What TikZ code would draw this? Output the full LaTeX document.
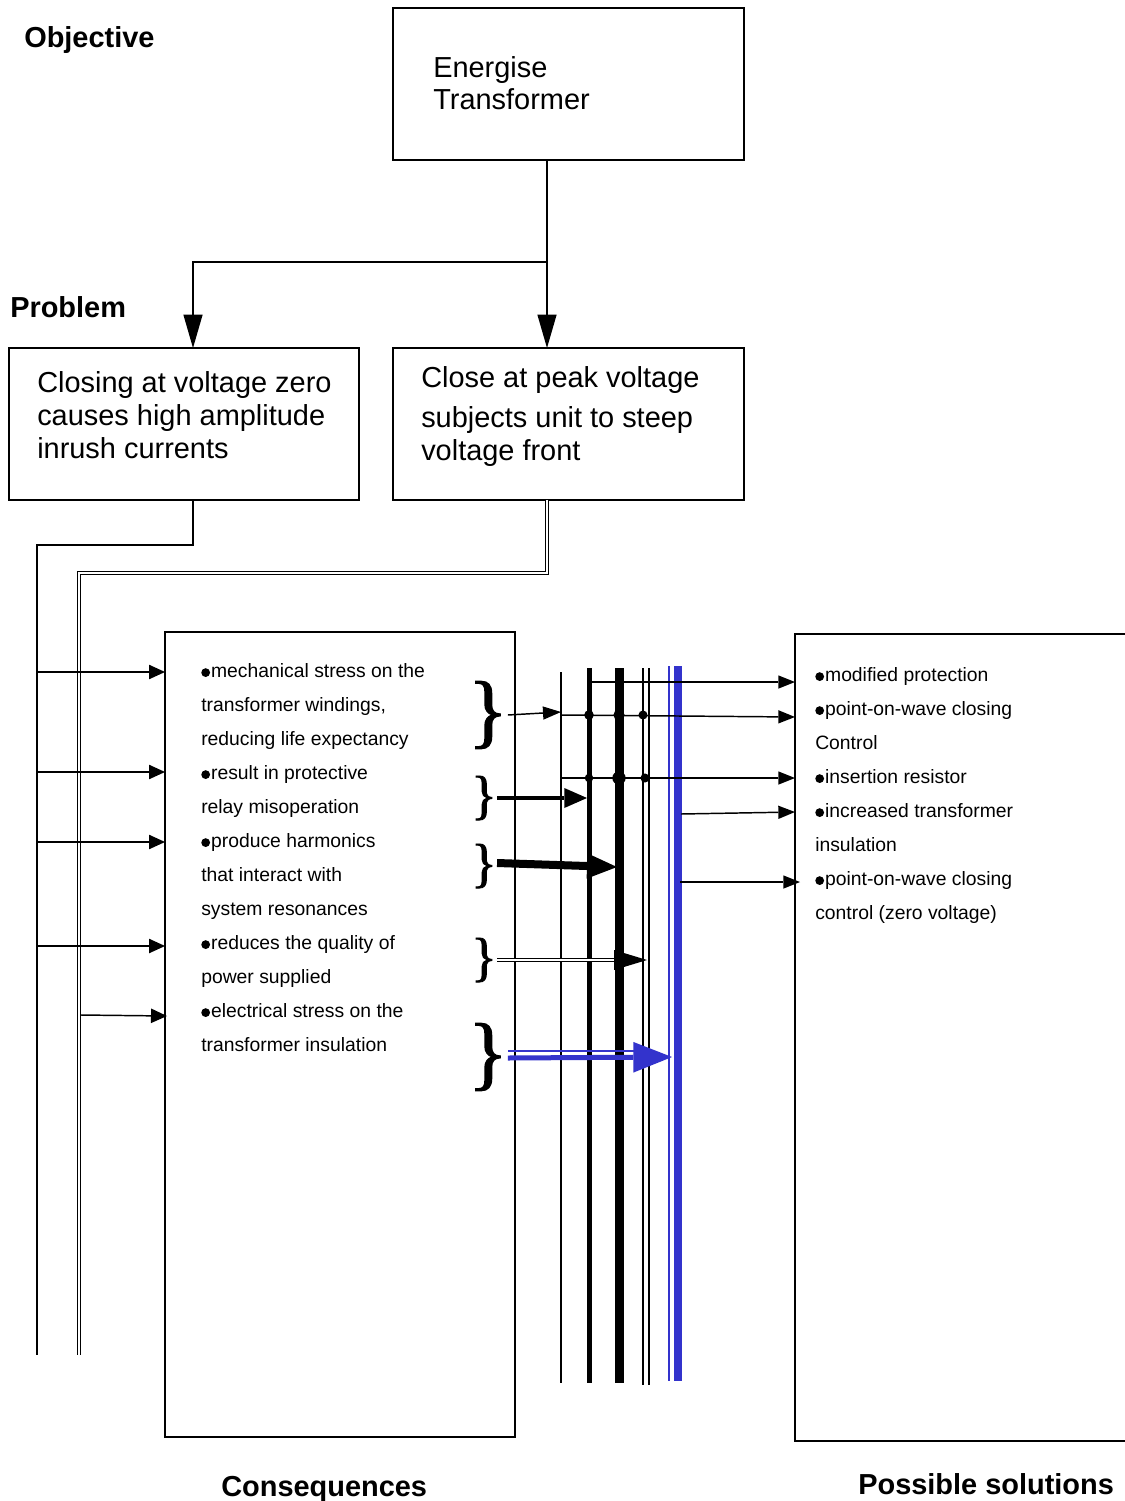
\documentclass[tikz,border=0pt]{standalone}
\usepackage{fontspec}
\setmainfont{Liberation Sans}
\newfontfamily\bracefont[FakeBold=1.6]{Liberation Serif}
\usetikzlibrary{arrows.meta,calc}
\definecolor{lineblue}{RGB}{51,51,204}
\newcommand\pxu{0.75pt}
% small round bullet sitting on the baseline
\newcommand\conbul{\tikz[baseline=0pt]{\fill (3.3pt,3.3pt) circle (3.3pt);\useasboundingbox (0pt,0pt) rectangle (7.4pt,6pt);}}

\begin{document}
\begin{tikzpicture}[x=0.75pt, y=-0.75pt,
  box/.style={draw, line width=1.1pt, inner sep=0pt, outer sep=0pt, anchor=north west},
  bigtxt/.style={font=\fontsize{21.7}{26}\selectfont, anchor=base west, inner sep=0pt},
  headtxt/.style={font=\fontsize{21.7}{26}\selectfont\bfseries, anchor=base west, inner sep=0pt},
  listtxt/.style={font=\fontsize{14.5}{17}\selectfont, anchor=base west, inner sep=0pt},
  bigbrace/.style={font=\fontsize{61}{61}\selectfont\bracefont, inner sep=0pt},
  smallbrace/.style={font=\fontsize{40}{40}\selectfont\bracefont, inner sep=0pt},
  wire/.style={line width=1.1pt},
  dblwire/.style={line width=0.9pt, double, double distance=1.6pt},
  bigtip/.style={-{Triangle[length=25pt,width=14.5pt,line width=0pt]}},
  sidetip/.style={-{Triangle[length=12pt,width=11pt,line width=0pt]}},
  rtip/.style={-{Triangle[length=12.5pt,width=10pt,line width=0pt]}},
]
% page
\fill[white] (0,0) rectangle (1124,1501);
\useasboundingbox (0,0) rectangle (1124,1501);

% ---------- boxes ----------
\node[box, minimum width=351*\pxu, minimum height=152*\pxu] (E) at (393,8) {};
\node[box, minimum width=350*\pxu, minimum height=152*\pxu] (A) at (9,348) {};
\node[box, minimum width=351*\pxu, minimum height=152*\pxu] (B) at (393,348) {};
\node[box, minimum width=350*\pxu, minimum height=805*\pxu] (C) at (165,632) {};
\node[box, minimum width=340*\pxu, minimum height=807*\pxu] (S) at (795,634) {};

% ---------- headings ----------
\node[headtxt] (hObj) at (24,48) {Objective};
\node[headtxt] (hProb) at (10,318) {Problem};
\node[headtxt] (hCons) at (221,1496) {Consequences};
\node[headtxt] (hSol) at (858,1494) {Possible solutions};

% ---------- box texts ----------
\node[bigtxt] (e1) at (433,78) {Energise};
\node[bigtxt] (e2) at (433,110) {Transformer};
\node[bigtxt] (a1) at (37,392) {Closing at voltage zero};
\node[bigtxt] (a2) at (37,425) {causes high amplitude};
\node[bigtxt] (a3) at (37,458) {inrush currents};
\node[bigtxt] (b1) at (421,387) {Close at peak voltage};
\node[bigtxt] (b2) at (421,427) {subjects unit to steep};
\node[bigtxt] (b3) at (421,460) {voltage front};

\foreach \t [count=\i] in {
  {\conbul mechanical stress on the},
  {transformer windings,},
  {reducing life expectancy},
  {\conbul result in protective},
  {relay misoperation},
  {\conbul produce harmonics},
  {that interact with},
  {system resonances},
  {\conbul reduces the quality of},
  {power supplied},
  {\conbul electrical stress on the},
  {transformer insulation}}
  \node[listtxt] (c\i) at (201,{677+34*(\i-1)}) {\t};

\foreach \t [count=\i] in {
  {\conbul modified protection},
  {\conbul point-on-wave closing},
  {Control},
  {\conbul insertion resistor},
  {\conbul increased transformer},
  {insulation},
  {\conbul point-on-wave closing},
  {control (zero voltage)}}
  \node[listtxt] (s\i) at (815,{681+34*(\i-1)}) {\t};

% ---------- objective to problems ----------
\coordinate (j) at (547,262);
\coordinate (jl) at (193,262);
\draw[wire, bigtip] (E.south -| j) -- (j |- B.north);
\draw[wire, bigtip] (j) -- (jl) -- (jl |- A.north);

% ---------- problem trunks ----------
\coordinate (ta) at (193,545);
\coordinate (tl) at (37,545);
\coordinate (tlend) at (37,1355);
\draw[wire] (A.south -| ta) -- (ta) -- (tl) -- (tlend);
\coordinate (tb) at (547,573);
\coordinate (tr) at (79,573);
\coordinate (trend) at (79,1355);
\draw[dblwire] (B.south -| tb) -- (tb) -- (tr) -- (trend);

% trunk feeds into consequences
\foreach \y [count=\i] in {672,772,842,946} {
  \coordinate (l\i) at (37,\y);
  \draw[wire, sidetip] (l\i) -- (l\i -| C.west);
}
\coordinate (l5) at (81,1015);
\draw[wire, sidetip] (l5) -- ($(l5 -| C.west)+(2,1)$);

% ---------- solution bars ----------
\coordinate (v1) at (561,672);
\coordinate (v2) at (589,668);
\coordinate (v3) at (619,668);
\coordinate (v4) at (643,668);
\coordinate (v5) at (649,668);
\coordinate (v6) at (669,666);
\coordinate (v7) at (678,666);
\draw[wire] (v1) -- (561,1383);
\draw[line width=3.75pt] (v2) -- (589,1383);
\draw[line width=6.75pt] (v3) -- (619,1383);
\draw[wire] (v4) -- (643,1385);
\draw[wire] (v5) -- (649,1385);
\draw[lineblue, line width=1.1pt] (v6) -- (669,1381);
\draw[lineblue, line width=6pt] (v7) -- (678,1381);

% bars to solutions
\coordinate (h1) at (589,682);
\coordinate (h2) at (561,715);
\coordinate (h3) at (561,778);
\coordinate (h4) at (681,814);
\coordinate (h5) at (680,882);
\draw[wire, rtip] (h1) -- (h1 -| S.west);
\draw[wire, rtip] (h2) -- ($(h2 -| S.west)+(0,2)$);
\draw[wire, rtip] (h3) -- (h3 -| S.west);
\draw[wire, rtip] (h4) -- ($(h4 -| S.west)+(0,-2)$);
\draw[wire, rtip] (h5) -- ($(h5 -| S.west)+(5,0)$);

% junction dots
\fill (589,715) circle (3.6pt);
\fill (619,715) circle (4.2pt);
\fill (643,715) circle (3.4pt);
\fill (589,778) circle (3.2pt);
\fill (619,778) circle (5pt);
\fill (645,778) circle (3.4pt);

% ---------- braces ----------
\node[bigbrace] (br1) at (488,715) {\}};
\node[smallbrace] (br2) at (484,798) {\}};
\node[smallbrace] (br3) at (484,866) {\}};
\node[smallbrace] (br4) at (484,960) {\}};
\node[bigbrace] (br5) at (488,1057) {\}};

% braces to bars
\draw[wire, -{Triangle[length=13.5pt,width=10pt,line width=0pt]}]
  (br1.east) -- ($(br1.east -| v1)+(0,-3)$);
\draw[line width=3pt, -{Triangle[length=17pt,width=15pt,line width=0pt]}]
  (br2.east) -- ($(br2.east -| v2)+(-2,0)$);
\draw[line width=6pt, -{Triangle[length=22.5pt,width=19pt,line width=0pt]}]
  ($(br3.east)+(0,-3)$) -- ($(br3.east -| v3)+(-2,1)$);
\coordinate (b4tip) at ($(br4.east -| v4)+(4,0)$);
\draw[dblwire, line width=0.8pt, double distance=1.5pt] (br4.east) -- ($(b4tip)+(-30,0)$);
\fill (b4tip) -- ++(-33,-10) -- ++(0,20) -- cycle;
\coordinate (b5tip) at ($(br5.east -| v6)+(3,0)$);
\draw[lineblue, line width=1pt] ($(br5.east)+(0,-6)$) -- ($(b5tip)+(-32,-6)$);
\draw[lineblue, line width=3.75pt, -{Triangle[length=29pt,width=23pt,line width=0pt]}]
  ($(br5.east)+(0,1)$) -- (b5tip);
\end{tikzpicture}
\end{document}
